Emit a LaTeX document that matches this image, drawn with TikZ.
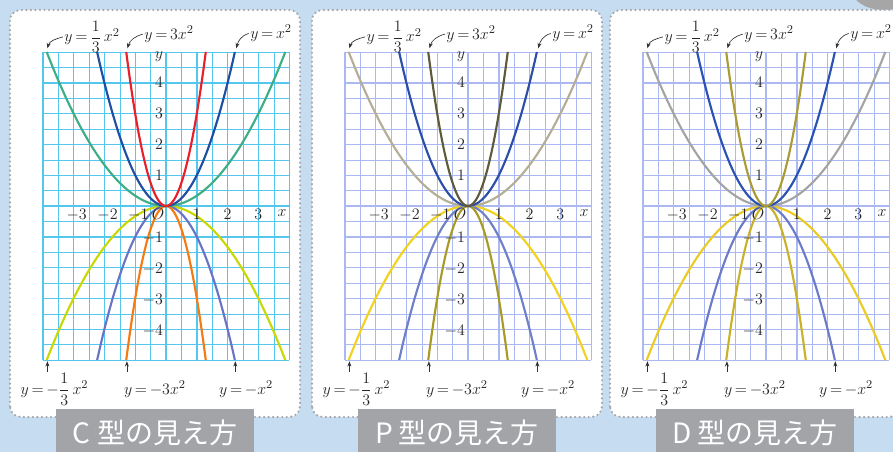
\documentclass[tikz,border=0pt]{standalone}
\usepackage{amsmath}
\usepackage{fontspec}
\newfontfamily\jpfont{Noto Sans CJK JP}
\usetikzlibrary{arrows.meta}
\definecolor{bgblue}{HTML}{C6DCF1}
\definecolor{dotgray}{HTML}{A4A6A9}
\definecolor{tabgray}{HTML}{A2A4A8}
\definecolor{gridC}{HTML}{55C6EE}
\definecolor{gridP}{HTML}{ABB8F2}
\definecolor{gridD}{HTML}{ABB8F2}
% curves y = x^2/3, x^2, 3x^2 (a, b, c) and their negatives (d, e, f)
\definecolor{caC}{HTML}{3DAE86}\definecolor{cbC}{HTML}{1F4EA2}\definecolor{ccC}{HTML}{E8202C}
\definecolor{cdC}{HTML}{C9D802}\definecolor{ceC}{HTML}{6A74C4}\definecolor{cfC}{HTML}{F47A12}
\definecolor{caP}{HTML}{B4AE96}\definecolor{cbP}{HTML}{2C4EA6}\definecolor{ccP}{HTML}{5E5A3A}
\definecolor{cdP}{HTML}{F1D21E}\definecolor{ceP}{HTML}{6F80C8}\definecolor{cfP}{HTML}{A89A26}
\definecolor{caD}{HTML}{A4A4A4}\definecolor{cbD}{HTML}{2A52B2}\definecolor{ccD}{HTML}{A99B36}
\definecolor{cdD}{HTML}{EACB24}\definecolor{ceD}{HTML}{6C7BC8}\definecolor{cfD}{HTML}{C9B22A}
\newcommand{\eq}{\,{=}\,}
\tikzset{
  panelbox/.style={fill=white, draw=dotgray, line width=1.8pt, dash pattern=on 0pt off 3.4pt,
    line cap=round, rounded corners=8pt},
  tabbox/.style={fill=tabgray},
  tabtext/.style={text=white, font=\jpfont\fontsize{21}{24}\selectfont, inner sep=0pt},
  curve/.style={line width=1.6pt, smooth, samples=60},
  tick/.style={inner sep=1pt, text=black!85, font=\fontsize{11.5}{13}\selectfont},
  eqlabel/.style={inner sep=1pt, text=black!85, font=\fontsize{12.5}{14}\selectfont},
  pointer/.style={-{Stealth[length=4pt,width=3pt]}, line width=0.5pt, black!80},
}
\begin{document}
\begin{tikzpicture}[x=0.75pt,y=0.75pt]
\useasboundingbox (0,0) rectangle (893,452);
\clip (0,0) rectangle (893,452);
\fill[bgblue] (0,0) rectangle (893,452);
\fill[gray!70] (884,462) ellipse (24pt and 15pt);
\foreach \ox/\typ in {166/C,468/P,766/D}{
\begin{scope}[shift={(\ox,246)}]
\draw[panelbox] (-156,-211) rectangle (134,196);
\fill[tabbox] (-110,-250) rectangle (88,-203);
\node[tabtext] (tab\typ) at (-11,-227) {\typ\ 型の見え方};
\begin{scope}[x=23.1pt,y=23.1pt]
% grid and axes
\draw[line width=0.4pt, color=grid\typ] (-4,-5) grid[step=0.5] (4,5);
\draw[line width=0.7pt, color=grid\typ] (-4,-5) grid[step=1] (4,5);
\draw[line width=1pt, color=grid\typ] (-4,0) -- (4,0) (0,-5) -- (0,5);
% parabolas
\draw[curve, color=cd\typ, domain=-3.873:3.873] plot (\x,{-(\x)*(\x)/3});
\draw[curve, color=ce\typ, domain=-2.236:2.236] plot (\x,{-(\x)*(\x)});
\draw[curve, color=cf\typ, domain=-1.291:1.291] plot (\x,{-3*(\x)*(\x)});
\draw[curve, color=ca\typ, domain=-3.873:3.873] plot (\x,{(\x)*(\x)/3});
\draw[curve, color=cb\typ, domain=-2.236:2.236] plot (\x,{(\x)*(\x)});
\draw[curve, color=cc\typ, domain=-1.291:1.291] plot (\x,{3*(\x)*(\x)});
% numbers on the axes
\foreach \k [count=\j] in {-3,-2,-1}
  \node[tick, anchor=north] (xm\typ\j) at (\k+0.1,-0.04) {$\k$};
\foreach \k in {1,2,3}
  \node[tick, anchor=north] (xp\typ\k) at (\k,-0.04) {$\k$};
\foreach \k in {1,2,3,4}
  \node[tick, anchor=east] (yp\typ\k) at (-0.05,\k) {$\k$};
\foreach \k [count=\j] in {-1,-2,-3,-4}
  \node[tick, anchor=east] (ym\typ\j) at (-0.05,\k-0.05) {$\k$};
\node[tick] (o\typ) at (-0.26,-0.25) {$O$};
\node[tick] (xl\typ) at (3.77,-0.22) {$x$};
\node[tick] (yl\typ) at (-0.23,4.84) {$y$};
% labels above
\node[eqlabel] (ta\typ) at (-2.40,5.49) {$y\eq\dfrac{1}{3}\,x^2$};
\node[eqlabel] (tb\typ) at (0.10,5.58) {$y\eq 3x^2$};
\node[eqlabel] (tc\typ) at (3.41,5.60) {$y\eq x^2$};
\coordinate (ea\typ) at (-3.85,5.12);
\coordinate (eb\typ) at (-1.25,5.12);
\coordinate (ec\typ) at (2.28,5.12);
\draw[pointer] (ta\typ.west) to[out=195,in=75] (ea\typ);
\draw[pointer] (tb\typ.west) to[out=195,in=75] (eb\typ);
\draw[pointer] (tc\typ.west) to[out=195,in=75] (ec\typ);
% labels below
\node[eqlabel] (ba\typ) at (-3.62,-5.94) {$y\eq{-}\dfrac{1}{3}\,x^2$};
\node[eqlabel] (bb\typ) at (-0.36,-5.94) {$y\eq{-}3x^2$};
\node[eqlabel] (bc\typ) at (2.60,-5.94) {$y\eq{-}x^2$};
\coordinate (sa\typ) at (-3.85,-5.40);
\coordinate (sb\typ) at (-1.27,-5.40);
\coordinate (sc\typ) at (2.25,-5.40);
\coordinate (ha\typ) at (-3.85,-5.04);
\coordinate (hb\typ) at (-1.27,-5.04);
\coordinate (hc\typ) at (2.25,-5.04);
\draw[pointer] (sa\typ) -- (ha\typ);
\draw[pointer] (sb\typ) -- (hb\typ);
\draw[pointer] (sc\typ) -- (hc\typ);
\end{scope}
\end{scope}
}
\end{tikzpicture}
\end{document}
